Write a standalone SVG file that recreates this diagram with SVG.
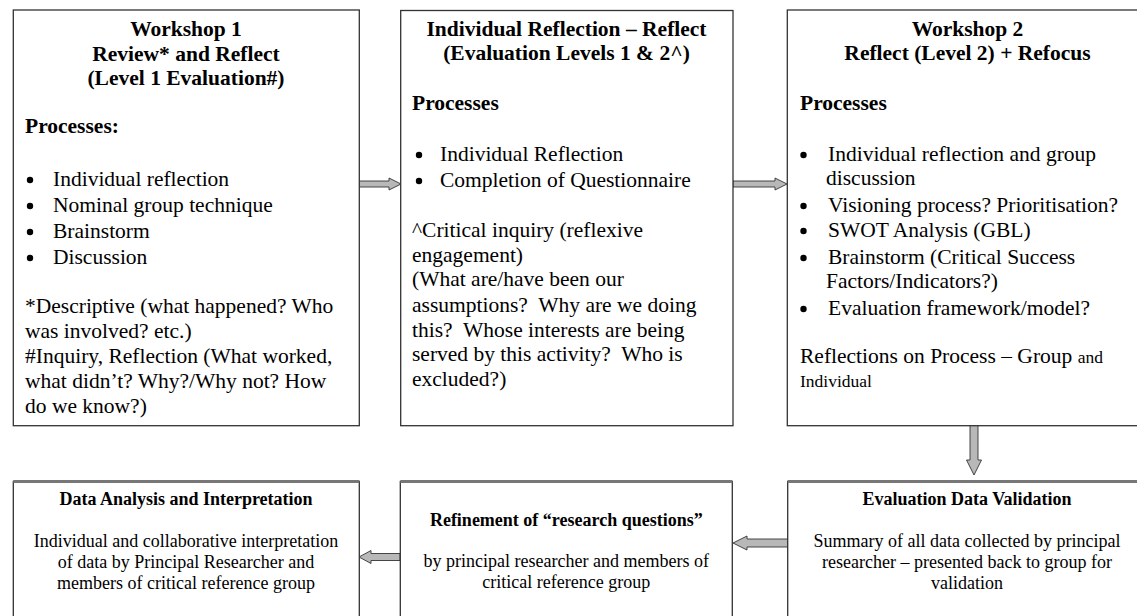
<svg xmlns="http://www.w3.org/2000/svg" width="1137" height="616" viewBox="0 0 1137 616">
<style>
.box{fill:#fff;stroke:#333;stroke-width:1.3}
.t{font-family:"Liberation Serif","Times New Roman",serif;font-size:21.5px;fill:#000}
.b{font-weight:bold}
.c{text-anchor:middle}
.sm{font-size:17.5px}
.s{font-family:"Liberation Serif","Times New Roman",serif;font-size:18px;fill:#000}
.arr{fill:#b8b8b8;stroke:#333;stroke-width:0.9}
.topb{stroke:#777;stroke-width:3}
.dot{fill:#000}
</style>
<rect width="1137" height="616" fill="#fff"/>
<g id="connectors">
<path class="arr" d="M359,181 H389 V178 L401,184 L389,190 V187 H359 Z"/>
<path class="arr" d="M733,181 H775 V178 L787,184 L775,190 V187 H733 Z"/>
<path class="arr" d="M970,418 H978 V460 H981.5 L974,475 L966.5,460 H970 Z"/>
<path class="arr" d="M400,553.5 H371 V550.5 L359,557 L371,563.5 V560.5 H400 Z"/>
<path class="arr" d="M788,539 H747 V536 L733,543 L747,550 V547 H788 Z"/>
</g>
<g id="workshop1">
<rect class="box" x="13.3" y="10" width="346" height="415.7"/>
<text class="t b c" x="186" y="36">Workshop 1</text>
<text class="t b c" x="186" y="61">Review* and Reflect</text>
<text class="t b c" x="186" y="85">(Level 1 Evaluation#)</text>
<text class="t b" x="25" y="133">Processes:</text>
<circle class="dot" cx="30" cy="180" r="3.2"/><text class="t" x="53" y="186">Individual reflection</text>
<circle class="dot" cx="30" cy="206" r="3.2"/><text class="t" x="53" y="212">Nominal group technique</text>
<circle class="dot" cx="30" cy="232" r="3.2"/><text class="t" x="53" y="238">Brainstorm</text>
<circle class="dot" cx="30" cy="258" r="3.2"/><text class="t" x="53" y="264">Discussion</text>
<text class="t" x="25" y="313">*Descriptive (what happened? Who</text>
<text class="t" x="25" y="338">was involved? etc.)</text>
<text class="t" x="25" y="363">#Inquiry, Reflection (What worked,</text>
<text class="t" x="25" y="388">what didn’t? Why?/Why not? How</text>
<text class="t" x="25" y="413">do we know?)</text>
</g>
<g id="individual-reflection">
<rect class="box" x="400.7" y="10.5" width="332.3" height="415.2"/>
<text class="t b c" x="566.5" y="36">Individual Reflection – Reflect</text>
<text class="t b c" x="566.5" y="60">(Evaluation Levels 1 &amp; 2^)</text>
<text class="t b" x="412" y="110">Processes</text>
<circle class="dot" cx="419" cy="155" r="3.2"/><text class="t" x="440" y="161">Individual Reflection</text>
<circle class="dot" cx="419" cy="181" r="3.2"/><text class="t" x="440" y="187">Completion of Questionnaire</text>
<text class="t" x="412" y="237">^Critical inquiry (reflexive</text>
<text class="t" x="412" y="262">engagement)</text>
<text class="t" x="412" y="286">(What are/have been our</text>
<text class="t" x="412" y="312" xml:space="preserve">assumptions?  Why are we doing</text>
<text class="t" x="412" y="337" xml:space="preserve">this?  Whose interests are being</text>
<text class="t" x="412" y="361" xml:space="preserve">served by this activity?  Who is</text>
<text class="t" x="412" y="386">excluded?)</text>
</g>
<g id="workshop2">
<rect class="box" x="787.3" y="10" width="362" height="415.7"/>
<text class="t b c" x="967.5" y="36">Workshop 2</text>
<text class="t b c" x="967.5" y="60">Reflect (Level 2) + Refocus</text>
<text class="t b" x="800" y="110">Processes</text>
<circle class="dot" cx="803.5" cy="155" r="3.2"/><text class="t" x="828" y="161">Individual reflection and group</text>
<text class="t" x="826" y="185">discussion</text>
<circle class="dot" cx="803.5" cy="206" r="3.2"/><text class="t" x="828" y="212">Visioning process? Prioritisation?</text>
<circle class="dot" cx="803.5" cy="231" r="3.2"/><text class="t" x="828" y="237">SWOT Analysis (GBL)</text>
<circle class="dot" cx="803.5" cy="258" r="3.2"/><text class="t" x="828" y="264">Brainstorm (Critical Success</text>
<text class="t" x="826" y="288">Factors/Indicators?)</text>
<circle class="dot" cx="803.5" cy="309" r="3.2"/><text class="t" x="828" y="315">Evaluation framework/model?</text>
<text class="t" x="800" y="363">Reflections on Process – Group <tspan class="sm">and</tspan></text>
<text class="t sm" x="800" y="387">Individual</text>
</g>
<g id="data-analysis">
<rect class="box" x="13.3" y="481.5" width="346" height="150"/>
<line class="topb" x1="13.3" y1="481.5" x2="359.3" y2="481.5"/>
<text class="s b c" x="186" y="505">Data Analysis and Interpretation</text>
<text class="s c" x="186" y="547">Individual and collaborative interpretation</text>
<text class="s c" x="186" y="568">of data by Principal Researcher and</text>
<text class="s c" x="186" y="589">members of critical reference group</text>
</g>
<g id="refinement">
<rect class="box" x="400.3" y="481.5" width="332" height="150"/>
<line class="topb" x1="400.3" y1="481.5" x2="732.3" y2="481.5"/>
<text class="s b c" x="566.3" y="526">Refinement of “research questions”</text>
<text class="s c" x="566.3" y="567">by principal researcher and members of</text>
<text class="s c" x="566.3" y="588">critical reference group</text>
</g>
<g id="validation">
<rect class="box" x="787.7" y="481.5" width="362" height="150"/>
<line class="topb" x1="787.7" y1="481.5" x2="1149" y2="481.5"/>
<text class="s b c" x="967" y="505">Evaluation Data Validation</text>
<text class="s c" x="967" y="547">Summary of all data collected by principal</text>
<text class="s c" x="967" y="568">researcher – presented back to group for</text>
<text class="s c" x="967" y="589">validation</text>
</g>
</svg>
